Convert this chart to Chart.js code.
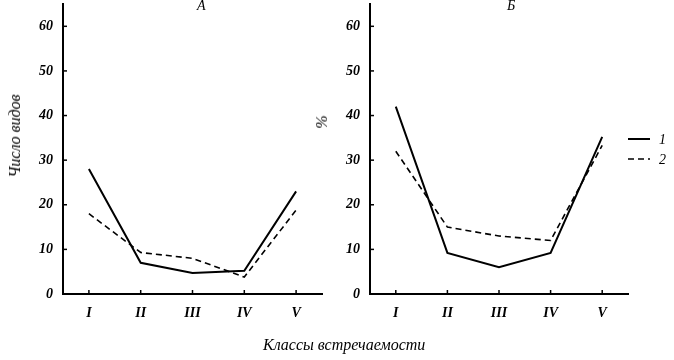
<!DOCTYPE html>
<html>
<head>
<meta charset="utf-8">
<script src="https://cdn.jsdelivr.net/npm/chart.js@4.4.1/dist/chart.umd.min.js"></script>
<style>
  body { margin: 0; background: #fff; }
  #wrap { position: relative; width: 674px; height: 360px; font-family: "Liberation Serif", serif; font-style: italic; }
  canvas { position: absolute; top: 0; }
  .lbl { position: absolute; font-size: 16px; color: #000; white-space: nowrap; line-height: 16px; }
  .rot { transform: translate(-50%, -50%) rotate(-90deg); }
</style>
</head>
<body>
<div id="wrap">
  <canvas id="chartA" width="340" height="360" style="left:0"></canvas>
  <canvas id="chartB" width="374" height="360" style="left:300px"></canvas>
  <div class="lbl" style="left:197px; top:-2px; font-size:14px;">А</div>
  <div class="lbl" style="left:507px; top:-2px; font-size:14px;">Б</div>
  <div class="lbl rot" style="left:15px; top:136px;">Число видов</div>
  <div class="lbl rot" style="left:322px; top:122px;">%</div>
  <div class="lbl" style="left:263px; top:337px;">Классы встречаемости</div>
</div>
<script>
// classes of occurrence
const classes = ['I', 'II', 'III', 'IV', 'V'];
const yTicks = [0, 10, 20, 30, 40, 50, 60];

// panel A – number of species
const speciesA1 = [28, 7, 4.7, 5.2, 23];
const speciesA2 = [18, 9.3, 8, 3.8, 18.8];

// panel B – percent
const percentB1 = [42, 9.2, 6, 9.2, 35.2];
const percentB2 = [32, 15, 13, 12, 33.3];

const legendLabels = ['1', '2'];

const tickFont = { family: 'Liberation Serif', style: 'italic', weight: 'bold', size: 14 };

// small ticks pointing into the plot area
const innerTicks = {
  id: 'innerTicks',
  afterDraw(chart) {
    const { ctx, chartArea, scales } = chart;
    ctx.save();
    ctx.strokeStyle = '#000';
    ctx.lineWidth = 1.5;
    yTicks.forEach(v => {
      const y = scales.y.getPixelForValue(v);
      ctx.beginPath();
      ctx.moveTo(chartArea.left, y);
      ctx.lineTo(chartArea.left + 4, y);
      ctx.stroke();
    });
    classes.forEach((c, i) => {
      const x = scales.x.getPixelForValue(i);
      ctx.beginPath();
      ctx.moveTo(x, chartArea.bottom);
      ctx.lineTo(x, chartArea.bottom - 4);
      ctx.stroke();
    });
    ctx.restore();
  }
};

const lineLegend = {
  id: 'lineLegend',
  afterDraw(chart) {
    const { ctx } = chart;
    const x0 = chart.chartArea.right;
    ctx.save();
    chart.data.datasets.forEach((ds, i) => {
      const y = 139 + i * 20;
      ctx.strokeStyle = '#000';
      ctx.lineWidth = ds.borderWidth;
      ctx.setLineDash(ds.borderDash || []);
      ctx.beginPath();
      ctx.moveTo(x0, y);
      ctx.lineTo(x0 + 22, y);
      ctx.stroke();
      ctx.setLineDash([]);
      ctx.fillStyle = '#000';
      ctx.font = 'italic 14px "Liberation Serif"';
      ctx.textBaseline = 'middle';
      ctx.fillText(ds.label, x0 + 31, y + 1);
    });
    ctx.restore();
  }
};

function makeChart(id, solid, dashed, yWidth, padRight, extraPlugins) {
  return new Chart(document.getElementById(id), {
    type: 'line',
    data: {
      labels: classes,
      datasets: [
        { label: legendLabels[0], data: solid, borderColor: '#000', borderWidth: 2, pointRadius: 0, tension: 0 },
        { label: legendLabels[1], data: dashed, borderColor: '#000', borderWidth: 1.6, borderDash: [6, 4], pointRadius: 0, tension: 0 }
      ]
    },
    options: {
      responsive: false,
      animation: false,
      layout: { padding: { top: 4, right: padRight, left: 0, bottom: 0 } },
      plugins: { legend: { display: false }, tooltip: { enabled: false } },
      scales: {
        x: {
          offset: true,
          grid: { display: false, drawTicks: false },
          border: { display: true, color: '#000', width: 2 },
          ticks: { color: '#000', font: tickFont, padding: 11 },
          afterFit: s => { s.height = 66; s.paddingLeft = 0; s.paddingRight = 0; }
        },
        y: {
          min: 0,
          max: 65,
          grid: { display: false, drawTicks: false },
          border: { display: true, color: '#000', width: 2 },
          ticks: { color: '#000', font: tickFont, padding: 10, stepSize: 10 },
          afterBuildTicks: s => { s.ticks = s.ticks.filter(t => yTicks.includes(t.value)); },
          afterFit: s => { s.width = yWidth; s.paddingTop = 0; s.paddingBottom = 0; }
        }
      }
    },
    plugins: [innerTicks].concat(extraPlugins)
  });
}

makeChart('chartA', speciesA1, speciesA2, 63, 18, []);
makeChart('chartB', percentB1, percentB2, 70, 46, [lineLegend]);
</script>
</body>
</html>
